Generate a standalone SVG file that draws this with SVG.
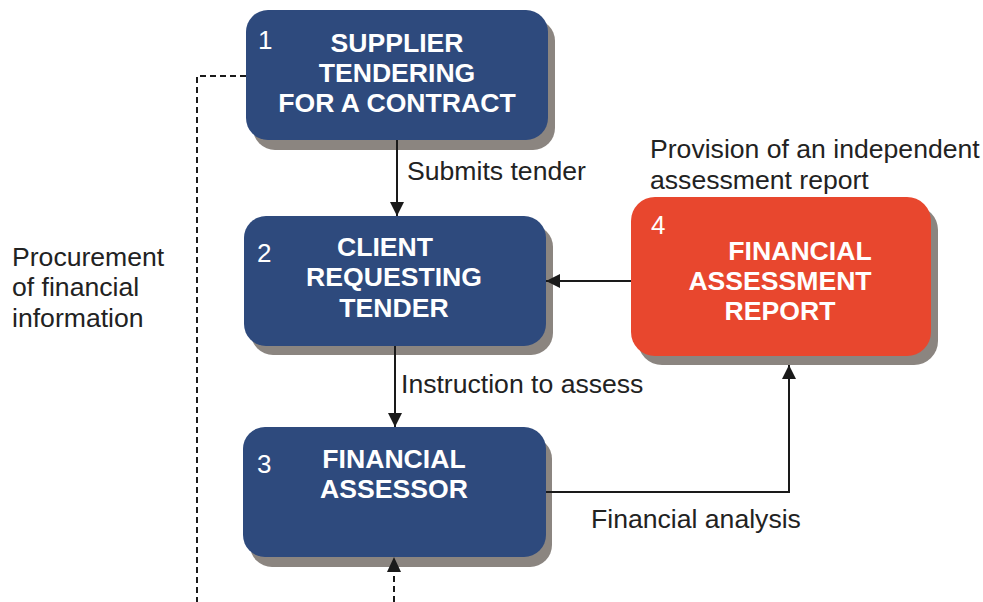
<svg xmlns="http://www.w3.org/2000/svg" width="983" height="602" viewBox="0 0 983 602">
<defs>
<style>
.shadow{fill:#8b8580}
.blue{fill:#2e4a7d}
.red{fill:#e8472e}
.num{font-family:"Liberation Sans",Arial,sans-serif;font-size:26px;fill:#ffffff}
.title{font-family:"Liberation Sans",Arial,sans-serif;font-size:26.6px;font-weight:bold;fill:#ffffff;text-anchor:middle}
.lbl{font-family:"Liberation Sans",Arial,sans-serif;font-size:26.6px;fill:#222222}
.ln{fill:none;stroke:#1a1a1a;stroke-width:2}
.dash{fill:none;stroke:#1a1a1a;stroke-width:2;stroke-dasharray:6 4}
</style>
<marker id="arr" viewBox="0 0 14 14" refX="14" refY="7" markerWidth="14" markerHeight="14" markerUnits="userSpaceOnUse" orient="auto">
<path d="M0,0 L14,7 L0,14 Z" fill="#1a1a1a"/>
</marker>
</defs>
<rect width="983" height="602" fill="#ffffff"/>
<g id="node1">
<rect class="shadow" x="253" y="19" width="302" height="131" rx="22"/>
<rect class="blue" x="246" y="10" width="302" height="130" rx="22"/>
<text class="num" x="258" y="49">1</text>
<text class="title" x="397" y="52">SUPPLIER</text>
<text class="title" x="397" y="82">TENDERING</text>
<text class="title" x="397" y="112">FOR A CONTRACT</text>
</g>
<g id="node2">
<rect class="shadow" x="251" y="225" width="302" height="130" rx="22"/>
<rect class="blue" x="244" y="216" width="302" height="130" rx="22"/>
<text class="num" x="257" y="262">2</text>
<text class="title" x="385" y="256">CLIENT</text>
<text class="title" x="394" y="286">REQUESTING</text>
<text class="title" x="394" y="317">TENDER</text>
</g>
<g id="node3">
<rect class="shadow" x="250" y="437" width="302" height="130" rx="22"/>
<rect class="blue" x="243" y="427" width="303" height="130" rx="22"/>
<text class="num" x="257" y="473">3</text>
<text class="title" x="394" y="468">FINANCIAL</text>
<text class="title" x="394" y="498">ASSESSOR</text>
</g>
<g id="node4">
<rect class="shadow" x="638" y="206" width="300" height="159" rx="24"/>
<rect class="red" x="631" y="197" width="300" height="159" rx="24"/>
<text class="num" x="651" y="234">4</text>
<text class="title" x="800" y="260">FINANCIAL</text>
<text class="title" x="780" y="290">ASSESSMENT</text>
<text class="title" x="780" y="320">REPORT</text>
</g>
<g id="connectors">
<line class="ln" x1="397" y1="140" x2="397" y2="216" marker-end="url(#arr)"/>
<line class="ln" x1="631" y1="281" x2="546" y2="281" marker-end="url(#arr)"/>
<line class="ln" x1="395" y1="346" x2="395" y2="427" marker-end="url(#arr)"/>
<polyline class="ln" points="546,492 789,492 789,365" marker-end="url(#arr)"/>
<polyline class="dash" points="246,76 197,76 197,602"/>
<line class="dash" x1="394" y1="602" x2="394" y2="572"/>
<path d="M387,572 L401,572 L394,557 Z" fill="#1a1a1a"/>
</g>
<g id="labels">
<text class="lbl" x="407" y="180">Submits tender</text>
<text class="lbl" x="401" y="393">Instruction to assess</text>
<text class="lbl" x="591" y="528">Financial analysis</text>
<text class="lbl" x="650" y="158">Provision of an independent</text>
<text class="lbl" x="650" y="189">assessment report</text>
<text class="lbl" x="12" y="266">Procurement</text>
<text class="lbl" x="12" y="296">of financial</text>
<text class="lbl" x="12" y="327">information</text>
</g>
</svg>
